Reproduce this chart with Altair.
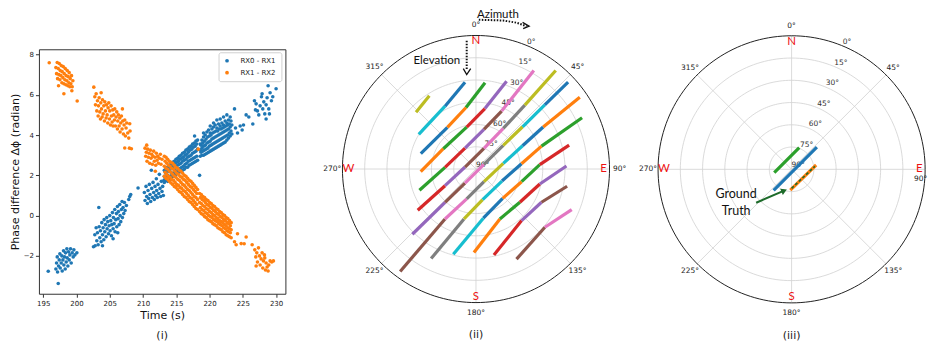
import numpy as np
import pandas as pd
import altair as alt

# ------------------------------------------------------------------ panel (i)
SERIES = ["RX0 - RX1", "RX1 - RX2"]
SERIES_COLORS = ["#1f77b4", "#ff7f0e"]
TIME_TICKS = [195, 200, 205, 210, 215, 220, 225, 230]
PHASE_TICKS = [-2, 0, 2, 4, 6, 8]

# RX0 - RX1 : (time s, phase rad)
RX01_POINTS = [
    (195.75, -2.76), (196.9, -2.65), (197.0, -2.35), (197.1, -2.05), (197.15, -2.8), (197.25, -3.37),
    (197.3, -2.5), (197.4, -2.2), (197.5, -1.9), (197.55, -2.6), (197.7, -2.35), (197.8, -2.0),
    (197.85, -2.75), (197.95, -2.2), (198.05, -1.75), (198.1, -2.45), (198.2, -2.05), (198.3, -2.65),
    (198.35, -1.85), (198.45, -2.3), (198.55, -1.65), (198.6, -2.1), (198.7, -2.5), (198.8, -1.8),
    (198.9, -2.2), (199.0, -1.95), (199.1, -1.65), (199.2, -2.35), (199.35, -1.85), (199.5, -2.05),
    (199.6, -1.7), (199.75, -1.95), (200.05, -1.85),
    (202.55, -1.55), (202.8, -1.5), (202.75, -0.95), (202.95, -0.6), (203.05, -1.25), (203.15, -0.85),
    (203.25, -1.45), (203.35, 0.4), (203.4, -0.55), (203.5, -1.1), (203.6, -0.75), (203.7, -1.3),
    (203.8, -0.35), (203.9, -0.95), (204.0, -0.6), (204.1, -1.2), (204.15, -0.2), (204.25, -0.8),
    (204.35, -0.45), (204.45, -1.05), (204.55, -0.1), (204.6, -0.65), (204.7, -0.3), (204.8, -0.9),
    (204.9, -0.5), (205.0, 0.0), (205.05, -0.75), (205.15, -0.25), (205.25, -1.0), (205.3, -0.45),
    (205.4, 0.15), (205.5, -0.65), (205.55, -0.1), (205.65, -0.4), (205.75, 0.3), (205.8, -0.8),
    (205.9, -0.2), (206.0, 0.1), (206.05, -0.55), (206.15, 0.45), (206.25, -0.15), (206.3, 0.2),
    (206.4, -0.45), (206.5, 0.55), (206.55, 0.0), (206.65, -0.3), (206.75, 0.3), (206.85, 0.7),
    (206.9, -0.1), (207.0, 0.4), (207.1, 0.1), (207.2, 0.65), (207.3, 0.25), (207.5, 0.5),
    (207.85, 0.8), (208.0, 0.95), (208.15, 1.05), (203.9, -1.5), (205.5, -1.15), (206.2, -0.85),
    (209.25, 1.37), (210.2, 1.15), (210.3, 0.75), (210.45, 1.45), (210.55, 0.95), (210.65, 0.6),
    (210.75, 1.25), (210.85, 0.85), (210.95, 1.55), (211.05, 1.05), (211.15, 0.7), (211.25, 2.25),
    (211.3, 1.35), (211.4, 0.9), (211.5, 1.65), (211.6, 1.15), (211.7, 0.8), (211.8, 1.45),
    (211.9, 1.0), (212.0, 1.83), (212.05, 1.25), (212.15, 0.9), (212.25, 1.55), (212.35, 1.1),
    (212.45, 2.05), (212.55, 1.35), (212.65, 0.95), (212.75, 1.7), (212.85, 1.2), (212.95, 1.45),
    (213.05, 1.0), (213.15, 1.75),
    (218.5, 2.0), (217.75, 3.95), (223.75, 5.3), (223.9, 4.35), (224.2, 4.1), (224.6, 4.45),
    (224.9, 4.25), (225.1, 4.5),
    (225.5, 5.0), (225.9, 4.9), (226.5, 4.55), (226.75, 5.7), (227.0, 5.55), (227.2, 5.2),
    (227.4, 5.0), (227.6, 5.45), (227.8, 5.9), (228.0, 5.3), (228.15, 5.65), (228.3, 5.05),
    (228.5, 5.5), (228.5, 4.8), (228.65, 5.85), (228.8, 6.45), (228.9, 5.3), (229.1, 6.1),
    (229.3, 5.7), (229.5, 5.9), (230.0, 6.3), (229.0, 5.05), (227.9, 6.05), (226.9, 5.25),
]
# RX0 - RX1 dense band : (time s, [phases])
RX01_BAND = [
    (213.2, [1.65, 1.95, 2.25]), (213.32, [1.8, 2.2]), (213.45, [1.75, 2.1, 2.35]), (213.57, [1.9, 2.3]),
    (213.7, [1.7, 2.0, 2.4]), (213.82, [1.8, 2.2]), (213.95, [1.85, 2.25, 2.5]), (214.07, [1.95, 2.4]),
    (214.2, [1.8, 2.15, 2.55]), (214.32, [2.0, 2.45]), (214.45, [1.95, 2.35, 2.65]), (214.57, [2.1, 2.5]),
    (214.7, [1.95, 2.3, 2.7]), (214.82, [2.15, 2.6]), (214.95, [2.05, 2.45, 2.8]), (215.07, [2.2, 2.65]),
    (215.2, [2.1, 2.5, 2.85]), (215.32, [2.3, 2.7]), (215.45, [2.15, 2.55, 2.95]), (215.57, [2.35, 2.8]),
    (215.7, [2.2, 2.6, 3.0]), (215.82, [2.4, 2.85]), (215.95, [2.25, 2.7, 3.1]), (216.07, [2.45, 2.9]),
    (216.2, [2.3, 2.75, 3.15]), (216.32, [2.55, 3.0]), (216.45, [2.4, 2.8, 3.25]), (216.57, [2.6, 3.05]),
    (216.7, [2.4, 2.9, 3.3]), (216.82, [2.7, 3.15]), (216.95, [2.5, 2.95, 3.4]), (217.07, [2.75, 3.25]),
    (217.2, [2.55, 3.0, 3.45]), (217.32, [2.8, 3.3]), (217.45, [2.6, 3.1, 3.55]), (217.57, [2.85, 3.4]),
    (217.7, [2.65, 3.15, 3.6]), (217.82, [2.9, 3.45]), (217.95, [2.7, 3.2, 3.7]), (218.07, [2.95, 3.55]),
    (218.2, [2.75, 3.3, 3.75]),
    (218.6, [2.95, 3.25, 3.55]), (218.72, [3.15, 3.5]), (218.85, [3.0, 3.35, 3.75]), (218.97, [3.2, 3.6]),
    (219.1, [3.0, 3.45, 3.9, 4.1]), (219.22, [3.25, 3.7]), (219.35, [3.05, 3.5, 4.0]), (219.47, [3.3, 3.8]),
    (219.6, [3.1, 3.6, 4.15]), (219.72, [3.35, 3.9]), (219.85, [3.15, 3.65, 4.25]), (219.97, [3.45, 3.95]),
    (220.1, [3.2, 3.7, 4.1, 4.45]), (220.22, [3.5, 4.0]), (220.35, [3.25, 3.8, 4.3]), (220.47, [3.55, 4.1]),
    (220.6, [3.3, 3.85, 4.4, 4.6]), (220.72, [3.6, 4.15]), (220.85, [3.35, 3.9, 4.5]), (220.97, [3.65, 4.2]),
    (221.1, [3.4, 3.95, 4.35, 4.75]), (221.22, [3.7, 4.2]), (221.35, [3.45, 4.0, 4.55]), (221.47, [3.75, 4.3]),
    (221.6, [3.5, 4.05, 4.45, 4.8]), (221.72, [3.8, 4.3]), (221.85, [3.55, 4.1, 4.6]), (221.97, [3.85, 4.35]),
    (222.1, [3.6, 4.15, 4.5, 4.9]), (222.22, [3.9, 4.4]), (222.35, [3.65, 4.2, 4.7]), (222.47, [3.95, 4.45]),
    (222.6, [3.75, 4.25, 4.6, 5.0]), (222.72, [4.0, 4.5]), (222.85, [3.85, 4.3, 4.75]), (222.97, [4.1, 4.55]),
    (223.1, [3.95, 4.4, 4.9]), (223.22, [4.2, 4.7]), (223.35, [4.05, 4.5]),
]

# RX1 - RX2 : (time s, phase rad)
RX12_POINTS = [
    (195.9, 7.59), (196.9, 7.35), (197.0, 7.05), (197.1, 7.6), (197.15, 6.8), (197.25, 7.3),
    (197.35, 7.0), (197.4, 7.55), (197.5, 6.75), (197.55, 7.2), (197.65, 6.95), (197.7, 7.45),
    (197.8, 6.6), (197.85, 7.15), (197.95, 6.85), (198.0, 7.4), (198.1, 6.55), (198.15, 7.05),
    (198.25, 6.75), (198.3, 7.3), (198.4, 6.5), (198.45, 6.95), (198.55, 6.7), (198.6, 7.2),
    (198.7, 6.45), (198.75, 6.9), (198.85, 6.6), (198.9, 7.1), (199.0, 6.4), (199.05, 6.8),
    (199.15, 6.55), (199.25, 6.95), (199.35, 6.4), (199.45, 6.7), (199.3, 6.2), (198.1, 6.05),
    (200.1, 5.69), (197.3, 6.45),
    (202.6, 6.38), (202.75, 5.9), (202.85, 5.5), (202.95, 6.05), (203.05, 5.2), (203.15, 5.7),
    (203.25, 4.95), (203.3, 5.45), (203.4, 5.85), (203.5, 5.15), (203.6, 4.8), (203.65, 5.6),
    (203.75, 5.3), (203.85, 4.9), (203.9, 5.75), (204.0, 5.05), (204.1, 5.45), (204.2, 4.7),
    (204.25, 5.65), (204.35, 5.2), (204.45, 4.85), (204.5, 5.5), (204.6, 5.0), (204.7, 4.6),
    (204.75, 5.35), (204.85, 5.6), (204.95, 4.8), (205.0, 5.2), (205.1, 4.5), (205.2, 5.45),
    (205.25, 4.95), (205.35, 4.65), (205.45, 5.25), (205.5, 4.45), (205.6, 5.0), (205.7, 4.75),
    (205.75, 5.3), (205.85, 4.45), (205.95, 4.9), (206.05, 5.15), (206.15, 4.3), (206.2, 4.7),
    (206.3, 5.0), (206.4, 4.45), (206.5, 4.85), (206.55, 4.15), (206.65, 4.6), (206.75, 4.95),
    (206.85, 4.3), (206.95, 4.7), (207.05, 4.05), (207.15, 4.5), (207.25, 4.75), (207.35, 3.95),
    (207.45, 4.35), (207.55, 4.6), (207.7, 4.1), (207.85, 3.85), (208.0, 4.56), (208.05, 4.2),
    (207.25, 3.36), (207.95, 3.35), (208.25, 3.32), (203.7, 6.1), (206.9, 5.3),
    (210.3, 3.35), (210.4, 2.95), (210.5, 3.15), (210.6, 2.7), (210.7, 3.3), (210.8, 2.9),
    (210.9, 3.1), (211.0, 2.6), (211.1, 3.25), (211.2, 2.85), (211.3, 3.05), (211.4, 2.55),
    (211.5, 2.95), (211.6, 3.2), (211.7, 2.7), (211.8, 2.9), (211.9, 2.5), (212.0, 3.1),
    (212.1, 2.75), (212.2, 2.95), (212.3, 2.6), (212.45, 2.85), (212.6, 3.05), (212.7, 2.55),
    (212.85, 2.8), (211.85, 2.2), (210.55, 3.5),
    (218.3, 3.3), (223.75, -1.3), (224.2, -0.9), (224.75, -1.39), (225.5, -1.06), (224.0, -1.45),
    (225.2, -1.4),
    (226.4, -1.45), (226.8, -1.7), (226.95, -2.05), (227.1, -1.85), (227.2, -2.3), (227.35, -1.6),
    (227.5, -2.0), (227.6, -2.45), (227.75, -2.15), (227.9, -1.85), (228.0, -2.6), (228.1, -2.25),
    (228.25, -1.95), (228.4, -2.7), (228.5, -2.35), (228.65, -2.55), (228.8, -2.75), (228.9, -2.45),
    (229.1, -2.25), (229.35, -2.3), (229.6, -2.25), (227.0, -2.5), (228.3, -2.1),
]
# RX1 - RX2 dense band : (time s, [phases])
RX12_BAND = [
    (213.2, [1.95, 2.45, 2.95]), (213.32, [2.15, 2.7]), (213.45, [1.85, 2.35, 2.9]), (213.57, [2.05, 2.6]),
    (213.7, [1.8, 2.3, 2.8]), (213.82, [1.95, 2.5]), (213.95, [1.7, 2.2, 2.7]), (214.07, [1.9, 2.45]),
    (214.2, [1.62, 2.15, 2.65]), (214.32, [1.8, 2.35]), (214.45, [1.55, 2.05, 2.6]), (214.57, [1.75, 2.3]),
    (214.7, [1.45, 1.95, 2.5]), (214.82, [1.65, 2.2]), (214.95, [1.4, 1.9, 2.4]), (215.07, [1.55, 2.1]),
    (215.2, [1.3, 1.8, 2.35]), (215.32, [1.5, 2.05]), (215.45, [1.2, 1.75, 2.25]), (215.57, [1.4, 1.95]),
    (215.7, [1.15, 1.65, 2.2]), (215.82, [1.35, 1.9]), (215.95, [1.05, 1.55, 2.1]), (216.07, [1.25, 1.8]),
    (216.2, [0.95, 1.5, 2.0]), (216.32, [1.2, 1.75]), (216.45, [0.9, 1.4, 1.95]), (216.57, [1.1, 1.65]),
    (216.7, [0.8, 1.3, 1.85]), (216.82, [1.0, 1.55]), (216.95, [0.7, 1.25, 1.75]), (217.07, [0.9, 1.45]),
    (217.2, [0.65, 1.15, 1.7]), (217.32, [0.85, 1.4]), (217.45, [0.55, 1.05, 1.6]), (217.57, [0.75, 1.3]),
    (217.7, [0.45, 0.95, 1.5]), (217.82, [0.65, 1.2]), (217.95, [0.35, 0.9, 1.4]), (218.07, [0.55, 1.1]),
    (218.2, [0.3, 0.8, 1.3]),
    (218.5, [0.2, 0.65, 1.1]), (218.62, [0.4, 0.9]), (218.75, [0.1, 0.6, 1.05]), (218.87, [0.3, 0.8]),
    (219.0, [0.05, 0.5, 0.95]), (219.12, [0.25, 0.75]), (219.25, [-0.05, 0.45, 0.9]), (219.37, [0.15, 0.65]),
    (219.5, [-0.1, 0.35, 0.8]), (219.62, [0.1, 0.55]), (219.75, [-0.2, 0.3, 0.75]), (219.87, [0.0, 0.5]),
    (220.0, [-0.25, 0.2, 0.65]), (220.12, [-0.05, 0.4]), (220.25, [-0.3, 0.15, 0.6]), (220.37, [-0.1, 0.35]),
    (220.5, [-0.4, 0.05, 0.5]), (220.62, [-0.2, 0.25]), (220.75, [-0.45, 0.0, 0.45]), (220.87, [-0.25, 0.2]),
    (221.0, [-0.5, -0.1, 0.35]), (221.12, [-0.3, 0.1]), (221.25, [-0.6, -0.15, 0.3]), (221.37, [-0.4, 0.05]),
    (221.5, [-0.65, -0.25, 0.2]), (221.62, [-0.45, -0.05]), (221.75, [-0.7, -0.3, 0.15]), (221.87, [-0.5, -0.1]),
    (222.0, [-0.8, -0.35, 0.05]), (222.12, [-0.6, -0.2]), (222.25, [-0.85, -0.45, 0.0]), (222.37, [-0.65, -0.25]),
    (222.5, [-0.95, -0.5, -0.1]), (222.62, [-0.75, -0.35]), (222.75, [-1.0, -0.6, -0.15]), (222.87, [-0.8, -0.4]),
    (223.0, [-1.05, -0.65, -0.25]), (223.12, [-0.85, -0.5]), (223.25, [-1.1, -0.7, -0.35]),
]

# ------------------------------------------------------------------ panels (ii), (iii)
TAB10 = {
    "blue": "#1f77b4", "orange": "#ff7f0e", "green": "#2ca02c", "red": "#d62728",
    "purple": "#9467bd", "brown": "#8c564b", "pink": "#e377c2", "gray": "#7f7f7f",
    "olive": "#bcbd22", "cyan": "#17becf",
}
# candidate trajectories: breakpoints (azimuth deg, elevation deg), colour of each piece
TRACK_AZ = [
    [313.5, 327.5, 340.3],
    [301.2, 333.8, 352.8],
    [285.5, 325.5, 350.8, 6.0],
    [267.2, 301.9, 347.5, 8.4, 19.2],
    [249.4, 273.1, 332.4, 11.4, 23.9, 30.4],
    [234.7, 241.7, 280.3, 21.2, 33.9, 37.4, 39.0],
    [224.3, 222.9, 218.2, 59.7, 49.1, 47.8, 47.0, 46.7],
    [216.5, 211.8, 197.3, 147.7, 78.3, 63.4, 58.0, 55.3],
    [206.6, 193.5, 167.7, 114.8, 83.3, 70.7, 64.2],
    [194.9, 171.5, 137.7, 105.5, 86.1, 75.6],
    [181.4, 154.4, 127.1, 103.2, 88.1],
    [168.2, 138.5, 116.9, 100.7],
    [155.8, 130.2, 113.0],
]
TRACK_EL = [
    [34.3, 31.5, 24.8],
    [44.9, 42.8, 31.0],
    [51.4, 56.0, 48.0, 31.6],
    [52.7, 64.1, 61.1, 48.8, 27.3],
    [49.3, 69.1, 74.1, 62.8, 47.3, 13.0],
    [41.9, 66.3, 82.5, 75.1, 57.0, 35.8, 4.6],
    [28.6, 59.4, 78.0, 83.8, 65.7, 47.6, 26.6, 4.7],
    [4.1, 50.4, 68.9, 79.9, 71.2, 54.9, 36.6, 4.9],
    [22.5, 55.4, 68.9, 70.7, 59.1, 43.2, 10.6],
    [30.6, 56.5, 63.3, 58.1, 46.9, 25.2],
    [33.7, 52.7, 52.9, 45.8, 29.0],
    [30.9, 43.6, 40.5, 27.5],
    [23.4, 29.2, 19.9],
]
TRACK_COLORS = [
    ["olive"],
    ["cyan", "blue"],
    ["blue", "orange", "green"],
    ["orange", "green", "red", "purple"],
    ["green", "red", "purple", "brown", "pink"],
    ["red", "purple", "brown", "pink", "gray", "olive"],
    ["purple", "brown", "pink", "gray", "olive", "cyan", "blue"],
    ["brown", "pink", "gray", "olive", "cyan", "blue", "orange"],
    ["gray", "olive", "cyan", "blue", "orange", "green"],
    ["cyan", "blue", "orange", "green", "red"],
    ["orange", "green", "red", "purple"],
    ["red", "purple", "brown"],
    ["brown", "pink"],
]
# panel (iii): remaining candidates and ground truth
P3_AZ = [[259.1, 19.5], [220.6, 48.6], [183.6, 80.0]]
P3_EL = [[78.1, 74.5], [71.4, 67.3], [75.9, 73.2]]
P3_COLORS = [["green"], ["blue"], ["orange"]]
GT_AZ = [180.0, 82.7]
GT_EL = [77.2, 74.2]

RING_ELEV = [75, 60, 45, 30, 15]
ELEV_LABELS = [0, 15, 30, 45, 60, 75, 90]
AZ_LABELS = [0, 45, 90, 135, 180, 225, 270, 315]
CARDINALS = ["N", "E", "S", "W"]
CARDINAL_AZ = [0, 90, 180, 270]


def to_xy(az, el):
    z = 90.0 - np.asarray(el, dtype=float)
    a = np.radians(np.asarray(az, dtype=float))
    return z * np.sin(a), z * np.cos(a)


# ------------------------------------------------------------------ tables
rows = []
idx = 0
for name, pts, band in [(SERIES[0], RX01_POINTS, RX01_BAND), (SERIES[1], RX12_POINTS, RX12_BAND)]:
    allpts = list(pts) + [(t, p) for t, ps in band for p in ps]
    allpts.sort(key=lambda r: r[0])
    for t, p in allpts:
        rows.append({"series": name, "t": t, "phi": p, "idx": idx})
        idx += 1
scatter_df = pd.DataFrame(rows)

ring_rows, outer_rows = [], []
for el in RING_ELEV + [0]:
    for k, a in enumerate(range(0, 361, 2)):
        x, y = to_xy(a, el)
        (outer_rows if el == 0 else ring_rows).append({"ring": el, "k": k, "x": float(x), "y": float(y)})
ring_df = pd.DataFrame(ring_rows)
outer_df = pd.DataFrame(outer_rows)

sx0, sy0 = to_xy(AZ_LABELS, [0] * len(AZ_LABELS))
spoke_df = pd.DataFrame({"x": 0.0, "y": 0.0, "x2": sx0, "y2": sy0})

rx, ry = to_xy([22.5] * len(ELEV_LABELS), ELEV_LABELS)
rlab_df = pd.DataFrame({"x": rx, "y": ry, "label": [f"{e}°" for e in ELEV_LABELS]})

ax_, ay_ = to_xy(AZ_LABELS, [-6.8] * len(AZ_LABELS))
azlab_df = pd.DataFrame({"x": ax_, "y": ay_, "label": [f"{a}°" for a in AZ_LABELS]})
# in panel (iii) the 90° label sits at the page edge: pull it just inside, below the "E"
azlab3_df = azlab_df.copy()
azlab3_df.loc[azlab3_df["label"] == "90°", ["x", "y"]] = [86.9, -6.8]

cx_, cy_ = to_xy(CARDINAL_AZ, [4.0] * 4)
card_df = pd.DataFrame({"x": cx_, "y": cy_, "label": CARDINALS})


def segments(az_list, el_list, col_list):
    out, sid = [], 0
    for azs, els, cols in zip(az_list, el_list, col_list):
        xs, ys = to_xy(azs, els)
        for i, c in enumerate(cols):
            for k, j in ((0, i), (1, i + 1)):
                out.append({"seg": sid, "k": k, "x": float(xs[j]), "y": float(ys[j]), "color": TAB10[c]})
            sid += 1
    return pd.DataFrame(out)


tracks2_df = segments(TRACK_AZ, TRACK_EL, TRACK_COLORS)
tracks3_df = segments(P3_AZ, P3_EL, P3_COLORS)
gx, gy = to_xy(GT_AZ, GT_EL)
gt_df = pd.DataFrame({"x": gx, "y": gy, "k": [0, 1]})

# ------------------------------------------------------------------ panel (i) chart
FONT = "DejaVu Sans"
axis_common = dict(labelFont=FONT, labelFontSize=7, labelColor="#222", tickColor="#333", tickSize=3.5,
                   labelPadding=2, domain=False, grid=False, labelFlush=False, titleFont=FONT,
                   titleFontSize=11, titleFontWeight="normal", titleColor="#111", titlePadding=3)

scatter = alt.Chart(scatter_df).mark_circle(size=13, opacity=1).encode(
    x=alt.X("t:Q", scale=alt.Scale(domain=[194.35, 231.4], nice=False, zero=False),
            axis=alt.Axis(values=TIME_TICKS, title="Time (s)", format="d", **axis_common)),
    y=alt.Y("phi:Q", scale=alt.Scale(domain=[-3.88, 8.26], nice=False, zero=False),
            axis=alt.Axis(values=PHASE_TICKS, title="Phase difference Δϕ (radian)", format="d", **axis_common)),
    color=alt.Color("series:N", scale=alt.Scale(domain=SERIES, range=SERIES_COLORS),
                    legend=alt.Legend(title=None, orient="none", legendX=180, legendY=43, symbolType="circle",
                                      symbolSize=14, symbolStrokeWidth=0, labelFont=FONT, labelFontSize=7,
                                      labelColor="#222", padding=5, strokeColor="#d0d0d0", fillColor="white",
                                      cornerRadius=2, rowPadding=4, labelOffset=10)),
    order=alt.Order("idx:Q"),
).properties(
    width=247, height=245,
    view=alt.ViewBackground(stroke="#333", strokeWidth=1),
    title=alt.TitleParams("(i)", orient="bottom", anchor="middle", frame="group", font=FONT,
                          fontSize=11, fontWeight="normal", color="#222", offset=10),
)

spacer = alt.Chart(pd.DataFrame({"v": [0]})).mark_rule(strokeOpacity=0).encode(
    x=alt.value(0), y=alt.value(0), y2=alt.value(39)
).properties(width=10, height=39)

left = alt.vconcat(spacer, scatter, spacing=0)


# ------------------------------------------------------------------ polar panels
def polar(width, xdom, ydom, track_df, extra, caption, az_df):
    sx = alt.Scale(domain=xdom, nice=False, zero=False)
    sy = alt.Scale(domain=ydom, nice=False, zero=False)

    def enc(**kw):
        return dict(x=alt.X("x:Q", scale=sx, axis=None), y=alt.Y("y:Q", scale=sy, axis=None), **kw)

    rings = alt.Chart(ring_df).mark_line(color="#d0d0d0", strokeWidth=0.8).encode(
        **enc(detail="ring:N", order=alt.Order("k:Q")))
    spokes = alt.Chart(spoke_df).mark_rule(color="#d0d0d0", strokeWidth=0.8).encode(
        **enc(x2="x2:Q", y2="y2:Q"))
    outer = alt.Chart(outer_df).mark_line(color="#222", strokeWidth=1).encode(**enc(order=alt.Order("k:Q")))
    rlab = alt.Chart(rlab_df).mark_text(align="left", baseline="bottom", font=FONT, fontSize=7.5,
                                         color="#333").encode(**enc(text="label:N"))
    azlab = alt.Chart(az_df).mark_text(align="center", baseline="middle", font=FONT, fontSize=7.5,
                                       color="#222").encode(**enc(text="label:N"))
    card = alt.Chart(card_df).mark_text(align="center", baseline="middle", font="Lato", fontSize=11.5,
                                        color="#ee1111").encode(**enc(text="label:N"))
    tracks = alt.Chart(track_df).mark_line(strokeWidth=3.2, strokeCap="butt").encode(
        **enc(detail="seg:N", order=alt.Order("k:Q"), color=alt.Color("color:N", scale=None)))
    layers = [rings, spokes, outer, rlab, azlab, card, tracks]
    for kind, df, props in extra:
        if kind == "line":
            layers.append(alt.Chart(df).mark_line(**props).encode(**enc(detail="g:N", order=alt.Order("k:Q"))))
        elif kind == "text":
            layers.append(alt.Chart(df).mark_text(**props).encode(**enc(text="label:N")))
        elif kind == "point":
            layers.append(alt.Chart(df).mark_point(**props).encode(**enc()))
    cap = alt.Chart(pd.DataFrame({"x": [0.0], "y": [-112.0], "label": [caption]})).mark_text(
        font=FONT, fontSize=11, color="#222", baseline="middle").encode(**enc(text="label:N"))
    layers.append(cap)
    return alt.layer(*layers).properties(width=width, height=330)


# annotation anchors (plot units of panel (ii) / (iii))
ANNOT2_TEXT = pd.DataFrame({"x": [14.8, -26.4], "y": [104.0, 73.1], "label": ["Azimuth", "Elevation"]})
ANNOT2_DOTTED = pd.DataFrame({
    "g": [0, 0, 0, 0, 1, 1],
    "k": [0, 1, 2, 3, 0, 1],
    "x": [1.9, 18.4, 27.4, 34.1, -6.25, -6.25],
    "y": [100.6, 100.1, 98.6, 96.3, 86.5, 66.6],
})
ANNOT2_HEADS = pd.DataFrame({
    "g": [0, 0, 0, 1, 1, 1],
    "k": [0, 1, 2, 0, 1, 2],
    "x": [31.4, 35.8, 31.8, -8.54, -6.25, -3.56],
    "y": [98.8, 96.3, 94.6, 67.7, 63.7, 67.7],
})
extra2 = [
    ("text", ANNOT2_TEXT, dict(font="Lato", fontSize=11.5, color="#111", align="center", baseline="middle")),
    ("line", ANNOT2_DOTTED, dict(color="#111", strokeWidth=2, strokeDash=[1.5, 1.5])),
    ("line", ANNOT2_HEADS, dict(color="#111", strokeWidth=1.3)),
]

ANNOT3_TEXT = pd.DataFrame({"x": [-37.4, -37.4], "y": [-16.8, -28.0], "label": ["Ground", "Truth"]})
ANNOT3_ARROW = pd.DataFrame({"g": [0, 0], "k": [0, 1], "x": [-23.9, -5.0], "y": [-22.5, -14.4]})
ANNOT3_HEAD = pd.DataFrame({"x": [-5.0], "y": [-14.4]})
gt_line = gt_df.assign(g=0)
extra3 = [
    ("line", gt_line, dict(color="#1d6b2a", strokeWidth=1.6, strokeDash=[3, 2])),
    ("text", ANNOT3_TEXT, dict(font="Lato", fontSize=12.5, color="#111", align="center", baseline="middle")),
    ("line", ANNOT3_ARROW, dict(color="#1d6b2a", strokeWidth=2)),
    ("point", ANNOT3_HEAD, dict(shape="triangle-up", filled=True, size=45, angle=67, color="#1d6b2a", opacity=1)),
]

panel2 = polar(340, [-125.08, 103.56], [-114.3, 107.6], tracks2_df, extra2, "(ii)", azlab_df)
panel3 = polar(294, [-106.46, 91.26], [-114.1, 107.8], tracks3_df, extra3, "(iii)", azlab3_df)

chart = alt.hconcat(left, panel2, panel3, spacing=4).properties(padding=0).configure_view(strokeWidth=0)

chart.save("out.html", embed_options={"renderer": "svg", "actions": False})
